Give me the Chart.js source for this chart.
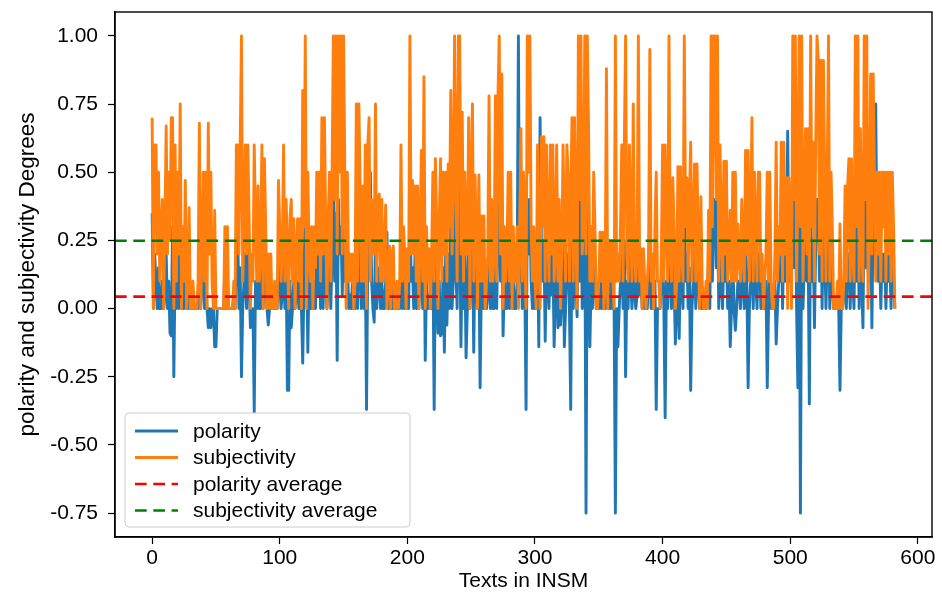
<!DOCTYPE html>
<html>
<head>
<meta charset="utf-8">
<script src="https://cdn.jsdelivr.net/npm/chart.js@4.4.0/dist/chart.umd.min.js"></script>
<style>
  html, body { margin: 0; padding: 0; background: #fff; }
  #wrap { width: 942px; height: 601px; }
</style>
</head>
<body>
<div id="wrap"><canvas id="chart" width="942" height="601"></canvas></div>
<script>
document.addEventListener("DOMContentLoaded", function () {

    // subjectivity per text (index = text number)
    const subjectivity = [
        0.70, 0, 0.60, 0.60, 0.20, 0.50, 0.10, 0.30, 0.40, 0,
        0.30, 0.67, 0.20, 0.50, 0.25, 0.70, 0.70, 0, 0.60, 0.10,
        0.50, 0.20, 0.75, 0, 0.30, 0.10, 0.47, 0, 0.10, 0.37,
        0, 0, 0.10, 0, 0, 0, 0.10, 0.68, 0, 0.20,
        0.50, 0.10, 0.50, 0, 0.68, 0.20, 0.50, 0.10, 0, 0.36,
        0, 0, 0, 0, 0, 0, 0, 0.30, 0, 0.30,
        0, 0, 0, 0, 0.10, 0, 0.60, 0.60, 0.20, 0.60,
        1.00, 0.10, 0.30, 0.60, 0.20, 0.60, 0.33, 0, 0.20, 0.10,
        0.60, 0.33, 0.10, 0.45, 0.10, 0.20, 0.60, 0, 0.55, 0.30,
        0, 0.20, 0, 0.20, 0, 0, 0.10, 0, 0, 0.47,
        0.30, 0.10, 0.20, 0.60, 0.10, 0.40, 0.20, 0, 0.33, 0.40,
        0.10, 0.33, 0, 0.20, 0.33, 0.10, 0.33, 0, 0.80, 0.30,
        1.00, 0, 0.50, 0.20, 0.10, 0.30, 0, 0.30, 0.15, 0.50,
        0.20, 0.50, 0.10, 0.70, 0.20, 0.70, 0.33, 0, 0.33, 0.50,
        0.10, 0.50, 1.00, 0.40, 1.00, 0.20, 1.00, 0.50, 1.00, 0.20,
        1.00, 0.50, 0, 0.50, 0.10, 0.20, 0.10, 0.20, 0, 0.10,
        0.75, 0.10, 0.75, 0.45, 0.10, 0.45, 0.10, 0.60, 0, 0.60,
        0.70, 0.10, 0.40, 0.20, 0.20, 0.75, 0.10, 0.40, 0.42, 0.10,
        0.40, 0.10, 0.20, 0.38, 0, 0.10, 0.23, 0, 0.20, 0.23,
        0, 0, 0.10, 0, 0.10, 0.60, 0.10, 0.30, 0.20, 0,
        0.22, 0.10, 1.00, 0.20, 0.47, 0.20, 0.45, 0.10, 0.45, 0,
        0.30, 0.58, 0.10, 0.85, 0, 0.30, 0.10, 0.22, 0, 0.20,
        0.50, 0.10, 0.55, 0.30, 0, 0.33, 0.55, 0.10, 0.50, 0.20,
        0.50, 0.10, 0.53, 0.30, 0.80, 0.20, 0.40, 1.00, 0.50, 0.10,
        1.00, 1.00, 0.20, 0.72, 0.10, 0.50, 0.20, 0.20, 0.70, 0,
        0.50, 0.75, 0.10, 0.49, 0.30, 0, 0.49, 0.10, 0.34, 0.10,
        0.34, 0, 0.10, 0.20, 0.78, 0.10, 0.40, 0.10, 0.20, 0.78,
        0.10, 0.78, 1.00, 0.20, 0.86, 0, 0.30, 0.10, 0.20, 0.50,
        0.10, 0.50, 0, 0.30, 0.10, 0.10, 0.30, 0, 0.30, 0.66,
        0.10, 0.50, 0.20, 0, 1.00, 0.50, 1.00, 0.30, 0.10, 0.30,
        0.10, 0, 0.60, 0.20, 0, 0.63, 0.30, 0.63, 0.10, 0.60,
        0.30, 0.10, 0.60, 0.20, 0.60, 0.10, 0.20, 0.60, 0.10, 0.40,
        0, 0.20, 0.60, 0.30, 0.10, 0.60, 0.50, 0.10, 0.40, 0.70,
        0.10, 0.70, 0.30, 0, 1.00, 0.40, 1.00, 0.20, 0.30, 1.00,
        0.20, 1.00, 0.66, 0.10, 0.30, 0.10, 0.50, 0.30, 0, 0,
        0.10, 0.28, 0.10, 0.28, 0, 0.10, 0.88, 0, 0.25, 0.10,
        0.25, 0.10, 0, 1.00, 0.10, 0.20, 0.10, 0.30, 0.60, 0.10,
        0.60, 1.00, 0.20, 0.10, 0.60, 0.30, 0.10, 0.75, 0.20, 0.10,
        0.20, 1.00, 0.10, 0.22, 0, 0.22, 0.10, 0, 0.10, 0.20,
        0.95, 0.10, 0.20, 0, 0.30, 0.50, 0.10, 0.10, 0, 0.20,
        0.60, 0.10, 0.60, 0.30, 0.10, 1.00, 0.20, 0.10, 0.48, 0.30,
        0, 0.10, 0.52, 0.10, 0.52, 0.20, 0.10, 1.00, 0.30, 0.48,
        0.10, 0.40, 0.61, 0.10, 0.30, 0.53, 0.10, 0.53, 0.20, 0,
        0.41, 0.10, 0, 0, 0.10, 0, 0.36, 0.10, 1.00, 0.30,
        1.00, 1.00, 0.40, 1.00, 0.10, 0.60, 0.30, 0.10, 0.54, 0.20,
        0.54, 0.10, 0.20, 0.36, 0.10, 0.50, 0.10, 0.50, 0.10, 0.31,
        0.20, 0.10, 0.40, 0.20, 0.10, 0.58, 0.20, 0.58, 0.10, 0.30,
        0.70, 0.10, 0.50, 0.30, 0.10, 0.50, 0.50, 0.10, 0.20, 0,
        0.10, 0.20, 0.50, 0.10, 0.50, 0.10, 0, 0, 0.20, 0.61,
        0.10, 0.30, 0.20, 0.61, 0.10, 0.61, 0.20, 0.48, 0, 0.48,
        0.30, 0, 1.00, 0.40, 1.00, 0.10, 0.45, 1.00, 0.30, 1.00,
        0.10, 0.40, 0.66, 0.20, 0.66, 0.10, 1.00, 0.30, 0.61, 0.10,
        0.61, 1.00, 0.91, 0.20, 0.91, 0.10, 0.91, 0.50, 0.10, 0.50,
        1.00, 0.10, 0.50, 0.30, 0, 0, 0, 0.10, 0, 0.31,
        0, 0, 0.10, 0.45, 0.10, 0.45, 0.55, 0.10, 0.55, 0.20,
        0.10, 1.00, 0.30, 1.00, 0.10, 0.66, 0.20, 0.10, 1.00, 0.40,
        1.00, 0, 0.30, 0.86, 0.20, 0.86, 0.50, 0.10, 0.50, 0.20,
        0.50, 0.10, 0.50, 0.30, 0.50, 0.10, 0.50, 0.20, 0.50, 0.10,
        0.50, 0.30, 0
    ];

    // polarity per text
    const polarity = [
        0.35, 0, 0.20, 0.10, 0, 0.15, 0, 0, 0.10, 0,
        0.05, 0.20, 0, 0.10, -0.09, -0.10, 0.30, -0.25, 0.15, 0,
        0.20, 0, 0.30, 0, 0.10, 0, 0.20, 0, 0, 0.10,
        0, 0, 0.05, 0, 0, 0, 0, 0.25, 0, 0.10,
        0.20, 0, 0.10, 0, -0.07, 0, -0.07, 0, 0, -0.14,
        -0.14, 0, 0, 0, 0, 0, 0, 0.15, 0, 0.10,
        0, 0, 0, 0, 0.05, 0, 0.20, 0.30, 0, 0.15,
        -0.25, 0, 0.10, 0.20, 0, 0.25, 0.10, -0.07, -0.05, 0,
        -0.38, 0.10, 0, 0.15, 0, 0, 0.20, 0, 0.20, 0.10,
        0, -0.06, 0, 0.05, 0, 0, 0, 0, 0, 0.20,
        0.10, 0, 0.05, 0.25, 0, 0.15, -0.30, -0.30, 0.10, -0.07,
        0, 0.10, 0, 0.05, 0.10, 0, 0.15, 0, -0.20, 0.10,
        0.40, 0.23, -0.16, 0.15, 0, 0.10, 0, 0.10, 0, 0.20,
        0.05, 0.20, 0, 0.30, 0, 0.25, 0.10, 0, 0.10, 0.20,
        0, 0.20, 0.50, 0.10, 0.35, -0.19, 0.40, 0.20, 0.30, 0.05,
        0.30, 0.10, 0.38, 0.20, 0, 0.05, 0, 0.10, 0, 0,
        0.30, 0, 0.25, 0.15, 0, 0.20, 0, 0.20, -0.37, 0.20,
        0.30, 0.50, 0.10, 0, -0.05, 0.25, 0, 0.10, 0.15, 0,
        0.10, 0, 0, 0.10, 0.28, 0, 0.05, 0, 0, 0.10,
        0, 0, 0, 0, 0, 0.20, 0, 0.10, 0, 0,
        0.05, 0, 0.40, 0.10, 0.15, 0, 0.20, 0, 0.10, 0,
        0.10, 0.20, 0, 0.35, -0.19, 0.10, 0, 0.05, 0, 0,
        0.20, -0.37, 0.20, 0.10, -0.09, 0.10, -0.10, -0.09, 0.15, -0.16,
        0.20, -0.06, 0.20, 0, 0.30, 0, 0.10, 0.40, 0.15, 0,
        0.50, 0.30, -0.14, 0.25, 0, 0.20, -0.18, 0, 0.30, 0,
        0.20, 0.30, -0.16, 0.20, 0.10, 0, 0.20, -0.29, 0.10, 0,
        0.10, 0, 0, 0.05, 0.30, 0, 0.15, 0, 0, 0.30,
        0, 0.30, 0.40, 0.10, 0.35, -0.10, 0.10, 0, 0, 0.20,
        0, 0.20, 0, 0.10, 0, 0, 0.10, 1.00, 0.10, 0.25,
        0, 0.20, 0.10, -0.37, 0.40, 0.20, 0.40, 0.10, 0, 0.10,
        0, 0, 0.25, -0.14, 0.70, 0.25, 0.10, 0.25, -0.12, 0.20,
        0.10, 0, 0.25, 0.05, 0.20, -0.14, 0.05, 0.25, -0.07, 0.15,
        -0.06, 0.05, 0.25, -0.14, 0, 0.20, 0.20, 0, -0.37, 0.30,
        0, 0.30, 0.10, -0.03, 0.40, 0.10, 0.40, 0, 0.10, 0.40,
        -0.75, 0.40, 0.25, -0.14, 0.10, 0, 0.20, 0.10, 0, 0,
        0, 0.10, 0, 0.10, 0, 0, 0.35, 0, 0.10, 0,
        0.10, 0, 0, -0.75, 0, -0.14, 0, 0.10, 0.25, 0,
        0.25, -0.25, 0.10, 0, 0.25, 0.10, 0, 0.30, 0.05, 0,
        0.05, 0.40, 0.05, 0.10, 0, 0.10, 0, 0, 0, 0.10,
        0.40, 0, 0.10, 0, 0.10, -0.37, 0, 0, 0, 0.10,
        0.25, 0, -0.40, 0.10, 0, 0.40, 0.10, 0, 0.20, 0.10,
        -0.13, 0, 0.20, -0.11, 0.20, 0.10, 0, 0.40, 0.10, 0.20,
        0, 0.15, -0.30, 0, 0.10, 0.20, 0, 0.20, 0.10, 0,
        0.15, 0, 0, 0, 0, 0.09, 0.15, 0, 0.40, 0.10,
        0.40, 0.40, 0.15, 0.40, 0, 0.25, 0.10, 0, 0.20, 0.10,
        0.20, 0, 0.10, -0.14, 0, 0.20, 0, -0.08, 0, 0.10,
        0.10, 0, 0.15, 0.10, 0, 0.25, 0.10, -0.29, 0, 0.10,
        0.30, 0, 0.20, 0.10, 0, 0.20, 0.20, 0, 0.10, 0,
        0, 0.10, -0.29, 0, 0.20, 0, 0, 0, 0.10, -0.13,
        0, 0.10, 0.10, 0.25, 0, 0.25, 0.10, 0.20, 0.65, 0.20,
        0.10, 0.40, 0.40, 0.15, 0.40, 0, -0.29, 0.40, -0.75, 0.40,
        0, 0.15, 0.25, 0.10, 0.25, -0.35, 0.40, 0.10, 0.25, -0.07,
        0.25, 0.40, 0.35, 0.10, 0.35, 0, 0.35, 0.20, 0, 0.20,
        0.40, 0, 0.20, 0.10, 0, 0, 0, 0.05, 0, -0.30,
        0, 0, 0.05, 0.20, 0, 0.20, 0.20, 0, 0.20, 0.10,
        0, 0.40, 0.10, 0.40, 0, 0.25, 0.10, -0.07, 0.40, 0.15,
        0.40, 0.14, 0.10, 0.35, -0.07, 0.35, 0.20, 0.75, 0.20, 0.10,
        0.20, 0, 0.20, 0.10, 0.20, 0, 0.20, 0.10, 0.20, 0,
        0.20, 0.10, 0
    ];

    const polarityAverage = 0.044;
    const subjectivityAverage = 0.249;

    const seriesLabels = ['polarity', 'subjectivity', 'polarity average', 'subjectivity average'];

    // axis bounds (5% margin around the data like the original)
    const xMin = -29.1, xMax = 611.1;
    const yMin = -0.8375, yMax = 1.0875;

    const fontFamily = "'Liberation Sans', Arial, sans-serif";
    Chart.defaults.font.family = fontFamily;
    Chart.defaults.font.size = 21;
    Chart.defaults.color = '#000';

    const toPoints = arr => arr.map((v, i) => ({ x: i, y: v }));
    const flat = v => [{ x: xMin, y: v }, { x: xMax, y: v }];

    /**
     * black frame around the plot area
     */
    const framePlugin = {
        id: 'frame',
        afterDatasetsDraw(chart) {
            const { ctx, chartArea: a } = chart;
            ctx.save();
            ctx.strokeStyle = '#000';
            ctx.lineWidth = 1.4;
            ctx.strokeRect(a.left, a.top, a.right - a.left, a.bottom - a.top);
            ctx.restore();
        }
    };

    /**
     * legend box in the lower left corner, like matplotlib's
     */
    const legendPlugin = {
        id: 'boxLegend',
        afterDraw(chart) {
            const { ctx, chartArea: a } = chart;
            const x = a.left + 10, w = 285, h = 114;
            const y = a.bottom - 10 - h;
            ctx.save();
            ctx.beginPath();
            ctx.roundRect(x, y, w, h, 4);
            ctx.fillStyle = 'rgba(255,255,255,0.8)';
            ctx.fill();
            ctx.strokeStyle = '#cccccc';
            ctx.lineWidth = 1;
            ctx.stroke();
            ctx.font = "21px " + fontFamily;
            ctx.textBaseline = 'middle';
            chart.data.datasets.forEach((ds, i) => {
                const ry = y + 18 + i * 26.5;
                ctx.beginPath();
                ctx.setLineDash(ds.borderDash || []);
                ctx.strokeStyle = ds.borderColor;
                ctx.lineWidth = ds.borderWidth;
                ctx.moveTo(x + 10, ry);
                ctx.lineTo(x + 53, ry);
                ctx.stroke();
                ctx.setLineDash([]);
                ctx.fillStyle = '#000';
                ctx.fillText(ds.label, x + 68, ry + 1);
            });
            ctx.restore();
        }
    };

    const lineStyle = { pointRadius: 0, borderWidth: 2.9, tension: 0, borderJoinStyle: 'round', fill: false };
    const dashStyle = { pointRadius: 0, borderWidth: 2.6, tension: 0, borderDash: [11.7, 6.6], borderCapStyle: 'butt', fill: false };

    new Chart(document.getElementById('chart'), {
        type: 'line',
        data: {
            datasets: [
                Object.assign({ label: seriesLabels[0], data: toPoints(polarity), borderColor: '#1f77b4', order: 3 }, lineStyle),
                Object.assign({ label: seriesLabels[1], data: toPoints(subjectivity), borderColor: '#ff7f0e', order: 2 }, lineStyle),
                Object.assign({ label: seriesLabels[2], data: flat(polarityAverage), borderColor: '#ff0000', order: 1 }, dashStyle),
                Object.assign({ label: seriesLabels[3], data: flat(subjectivityAverage), borderColor: '#008000', order: 0 }, dashStyle)
            ]
        },
        options: {
            responsive: false,
            animation: false,
            layout: { padding: { top: 12, right: 10, left: 0, bottom: 0 } },
            plugins: { legend: { display: false }, tooltip: { enabled: false } },
            scales: {
                x: {
                    type: 'linear',
                    min: xMin,
                    max: xMax,
                    grid: { drawOnChartArea: false, drawTicks: true, tickLength: 7, tickWidth: 1.2, tickColor: '#000' },
                    border: { display: true, color: '#000', width: 1.4 },
                    ticks: { stepSize: 100, includeBounds: false, padding: 2, maxRotation: 0, callback: v => String(v) },
                    title: { display: true, text: 'Texts in INSM', padding: { top: 0, bottom: 7 } },
                    afterFit: s => { s.height = 64; s.paddingLeft = 0; s.paddingRight = 0; }
                },
                y: {
                    min: yMin,
                    max: yMax,
                    grid: { drawOnChartArea: false, drawTicks: true, tickLength: 7, tickWidth: 1.2, tickColor: '#000' },
                    border: { display: true, color: '#000', width: 1.4 },
                    ticks: { stepSize: 0.25, includeBounds: false, padding: 10, callback: v => v.toFixed(2) },
                    title: { display: true, text: 'polarity and subjectivity Degrees', font: { size: 22.5 }, padding: { top: 14, bottom: 0 } },
                    afterFit: s => { s.width = 115; s.paddingTop = 0; s.paddingBottom = 0; }
                }
            }
        },
        plugins: [framePlugin, legendPlugin]
    });
});
</script>
</body>
</html>
